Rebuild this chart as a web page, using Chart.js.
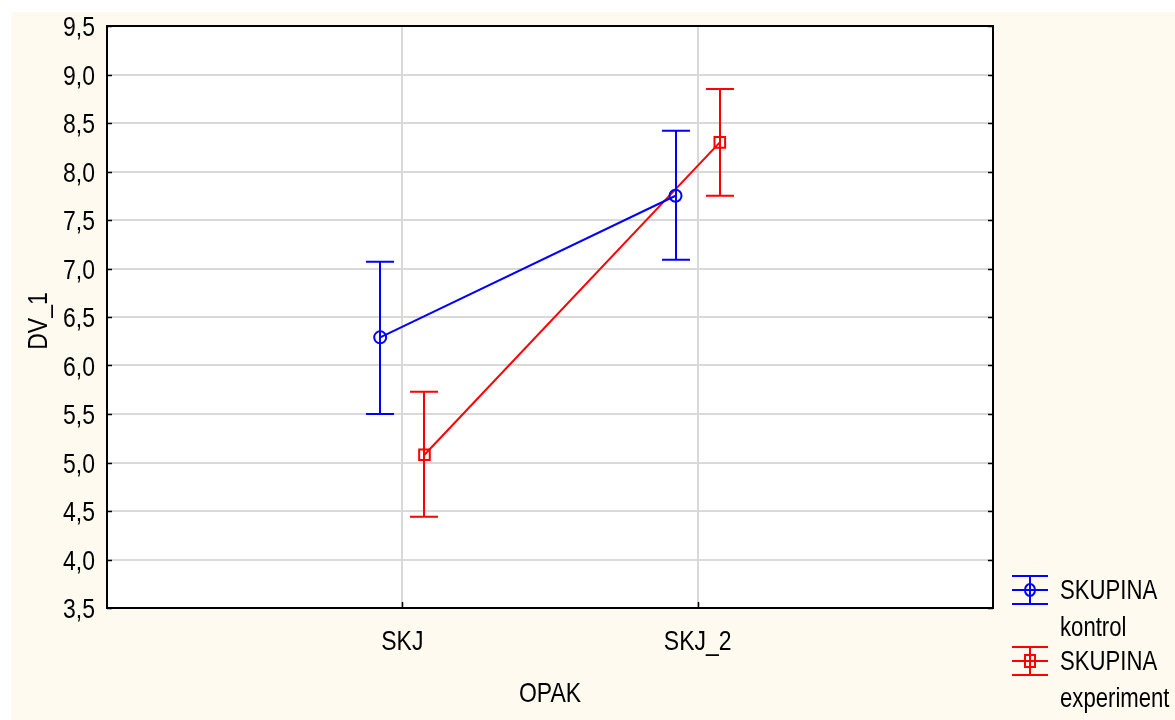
<!DOCTYPE html>
<html>
<head>
<meta charset="utf-8">
<script src="https://cdn.jsdelivr.net/npm/chart.js@4/dist/chart.umd.min.js"></script>
<style>
  html, body { margin: 0; padding: 0; background: #ffffff; }
  canvas { display: block; }
</style>
</head>
<body>
<canvas id="chart" width="1175" height="720"></canvas>
<script>
// Categories on the OPAK axis
const categories = ['SKJ', 'SKJ_2'];

// SKUPINA = kontrol: means and interval bounds
const kontrolMean = [6.29, 7.75];
const kontrolLow  = [5.50, 7.09];
const kontrolHigh = [7.07, 8.42];

// SKUPINA = experiment: means and interval bounds
const experimentMean = [5.08, 8.30];
const experimentLow  = [4.44, 7.75];
const experimentHigh = [5.73, 8.85];

// Value axis ticks
const yTickValues = [3.5, 4.0, 4.5, 5.0, 5.5, 6.0, 6.5, 7.0, 7.5, 8.0, 8.5, 9.0, 9.5];

// Axis titles and legend text lines per group
const xTitle = 'OPAK';
const yTitle = 'DV_1';
const kontrolLegend = ['SKUPINA', 'kontrol'];
const experimentLegend = ['SKUPINA', 'experiment'];

const FONT = '"Liberation Sans", Arial, sans-serif';
const NARROW = 0.82;      // condensed look for all text
const CREAM = '#fffaf0';
const GRID = '#d9d9d9';
const BLUE = '#0000ff';
const RED = '#ff0000';

// horizontal dodge of the two groups around each category
const dodge = [-0.075, 0.075];

function points(means, g) {
  return means.map((v, i) => ({ x: i + 1 + dodge[g], y: v }));
}

const groups = [
  { label: kontrolLegend, color: BLUE, style: 'circle', mean: kontrolMean, low: kontrolLow, high: kontrolHigh },
  { label: experimentLegend, color: RED, style: 'rect', mean: experimentMean, low: experimentLow, high: experimentHigh }
];

const fmt = v => v.toFixed(1).replace('.', ',');

// draws condensed text: x,y is the anchor, baseline alphabetic
function narrowText(ctx, text, x, y, align, rotate) {
  ctx.save();
  ctx.translate(x, y);
  if (rotate) ctx.rotate(-Math.PI / 2);
  ctx.scale(NARROW, 1);
  ctx.textAlign = align;
  ctx.textBaseline = 'alphabetic';
  ctx.fillText(text, 0, 0);
  ctx.restore();
}

const framePlugin = {
  id: 'frame',
  beforeDraw(chart) {
    const { ctx, width, height, chartArea: a } = chart;
    ctx.save();
    ctx.fillStyle = '#ffffff';
    ctx.fillRect(0, 0, width, height);
    ctx.fillStyle = CREAM;
    ctx.fillRect(11, 12, width - 11, height - 12);
    ctx.fillStyle = '#ffffff';
    ctx.fillRect(a.left, a.top, a.right - a.left, a.bottom - a.top);
    ctx.restore();
  },
  afterDatasetsDraw(chart) {
    const { ctx } = chart;
    const xs = chart.scales.x, ys = chart.scales.y;
    const cap = 14;
    ctx.save();
    ctx.lineWidth = 2;
    groups.forEach((g, gi) => {
      ctx.strokeStyle = g.color;
      g.mean.forEach((m, i) => {
        const px = Math.round(xs.getPixelForValue(i + 1 + dodge[gi]));
        const yl = ys.getPixelForValue(g.low[i]);
        const yh = ys.getPixelForValue(g.high[i]);
        ctx.beginPath();
        ctx.moveTo(px, yl); ctx.lineTo(px, yh);
        ctx.moveTo(px - cap, yl); ctx.lineTo(px + cap, yl);
        ctx.moveTo(px - cap, yh); ctx.lineTo(px + cap, yh);
        ctx.stroke();
      });
    });
    ctx.restore();
  },
  afterDraw(chart) {
    const { ctx, chartArea: a } = chart;
    const xs = chart.scales.x, ys = chart.scales.y;
    ctx.save();
    // plot frame
    ctx.strokeStyle = '#000000';
    ctx.lineWidth = 2;
    ctx.strokeRect(a.left, a.top, a.right - a.left, a.bottom - a.top);
    // inward tick marks
    ctx.beginPath();
    yTickValues.forEach(v => {
      const py = Math.round(ys.getPixelForValue(v)) + 0.5;
      ctx.moveTo(a.left, py); ctx.lineTo(a.left + 5, py);
      ctx.moveTo(a.right - 5, py); ctx.lineTo(a.right, py);
    });
    categories.forEach((c, i) => {
      const px = Math.round(xs.getPixelForValue(i + 1)) + 0.5;
      ctx.moveTo(px, a.bottom); ctx.lineTo(px, a.bottom - 6);
    });
    ctx.lineWidth = 1.5;
    ctx.stroke();

    // tick labels and axis titles
    ctx.fillStyle = '#000000';
    ctx.font = '28px ' + FONT;
    yTickValues.forEach(v => {
      narrowText(ctx, fmt(v), a.left - 12, ys.getPixelForValue(v) + 10, 'right');
    });
    categories.forEach((c, i) => {
      narrowText(ctx, c, xs.getPixelForValue(i + 1), a.bottom + 42, 'center');
    });
    narrowText(ctx, xTitle, (a.left + a.right) / 2, a.bottom + 94, 'center');
    narrowText(ctx, yTitle, 47, (a.top + a.bottom) / 2 + 4, 'center', true);

    // legend
    const lx0 = 1012, lx1 = 1048, lc = 1030, tx = 1060;
    const centers = [590, 661];
    ctx.font = '27px ' + FONT;
    groups.forEach((g, gi) => {
      const cy = centers[gi];
      ctx.strokeStyle = g.color;
      ctx.lineWidth = 2;
      ctx.beginPath();
      [-14, 0, 14].forEach(d => { ctx.moveTo(lx0, cy + d); ctx.lineTo(lx1, cy + d); });
      ctx.moveTo(lc, cy - 14); ctx.lineTo(lc, cy + 14);
      ctx.stroke();
      ctx.beginPath();
      if (g.style === 'circle') {
        ctx.ellipse(lc, cy, 5, 6, 0, 0, Math.PI * 2);
      } else {
        ctx.rect(lc - 5, cy - 6, 10, 12);
      }
      ctx.stroke();
      ctx.fillStyle = '#000000';
      g.label.forEach((t, li) => narrowText(ctx, t, tx, cy + 9 + li * 37, 'left'));
    });
    ctx.restore();
  }
};

new Chart(document.getElementById('chart'), {
  type: 'line',
  data: {
    datasets: groups.map((g, gi) => ({
      label: g.label.join(' '),
      data: points(g.mean, gi),
      borderColor: g.color,
      backgroundColor: 'rgba(0,0,0,0)',
      borderWidth: 2,
      pointStyle: g.style,
      pointRadius: g.style === 'rect' ? 7.5 : 6,
      pointBorderWidth: 2,
      pointBorderColor: g.color,
      pointBackgroundColor: 'rgba(0,0,0,0)',
      tension: 0,
      fill: false
    }))
  },
  options: {
    responsive: false,
    devicePixelRatio: 1,
    animation: false,
    layout: { padding: { top: 26, right: 182, left: 0, bottom: 0 } },
    plugins: { legend: { display: false }, tooltip: { enabled: false } },
    scales: {
      x: {
        type: 'linear',
        min: 0,
        max: 3,
        afterBuildTicks: s => { s.ticks = categories.map((c, i) => ({ value: i + 1 })); },
        afterFit: s => { s.height = 112; },
        ticks: { display: false },
        grid: { color: GRID, lineWidth: 2, drawTicks: false },
        border: { display: false }
      },
      y: {
        min: 3.5,
        max: 9.5,
        afterBuildTicks: s => { s.ticks = yTickValues.map(v => ({ value: v })); },
        afterFit: s => { s.width = 107; },
        ticks: { display: false },
        grid: { color: GRID, lineWidth: 2, drawTicks: false },
        border: { display: false }
      }
    }
  },
  plugins: [framePlugin]
});
</script>
</body>
</html>
